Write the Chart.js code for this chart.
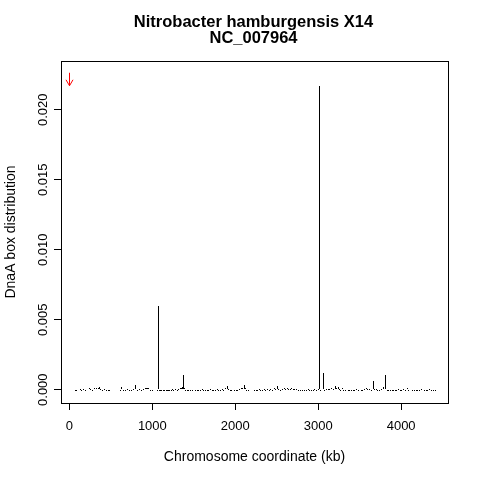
<!DOCTYPE html>
<html>
<head>
<meta charset="utf-8">
<script src="https://cdn.jsdelivr.net/npm/chart.js@4.4.1/dist/chart.umd.min.js"></script>
<style>
  html, body { margin: 0; padding: 0; background: #fff; }
  #wrap { width: 480px; height: 480px; }
</style>
</head>
<body>
<div id="wrap"><canvas id="chart" width="480" height="480"></canvas></div>
<script>
// titres
const mainTitle = ["Nitrobacter hamburgensis X14", "NC_007964"];
const xTitle = "Chromosome coordinate (kb)";
const yTitle = "DnaA box distribution";

// graduations
const xTicks = [0, 1000, 2000, 3000, 4000];
const yTicks = [0, 0.005, 0.010, 0.015, 0.020];

// positions des boites (kb)
const positionsKb = [
  68, 90, 130, 150, 175, 195, 240, 260, 280, 300, 330, 345, 358, 375, 400, 420, 445, 470, 488,
  616, 628, 650, 680, 700, 720, 745, 770, 797, 820, 845, 870, 895, 915, 930, 942, 955, 975, 1000,
  1060, 1071, 1085, 1100, 1115, 1130, 1150, 1165, 1180, 1195, 1210, 1225, 1240, 1260, 1280, 1300,
  1320, 1340, 1355, 1365, 1373, 1385, 1400, 1420, 1440, 1460, 1480, 1520, 1540, 1560, 1580, 1600,
  1620, 1640, 1660, 1680, 1700, 1720, 1740, 1760, 1780, 1800, 1820, 1840, 1860, 1880, 1901, 1920,
  1940, 1960, 1990, 2010, 2030, 2050, 2070, 2090, 2110, 2125, 2140, 2157,
  2230, 2250, 2270, 2290, 2310, 2330, 2350, 2370, 2390, 2410, 2430, 2450, 2470, 2490, 2509, 2525,
  2540, 2570, 2590, 2610, 2625, 2640, 2660, 2680, 2700, 2720, 2740, 2760, 2790, 2810, 2840, 2860,
  2880, 2900, 2920, 2940, 2960, 2980, 3000, 3017, 3030, 3065, 3080, 3100, 3120, 3140, 3160, 3180,
  3206, 3220, 3239, 3255, 3270, 3290, 3310, 3330, 3360, 3380, 3400, 3420, 3440, 3460, 3480, 3520,
  3540, 3560, 3580, 3600, 3620, 3640, 3661, 3680, 3700, 3720, 3740, 3760, 3790, 3815, 3830, 3850,
  3870, 3890, 3910, 3930, 3950, 3970, 3990, 4010, 4030, 4050, 4072, 4090, 4140, 4160, 4180, 4200,
  4220, 4240, 4280, 4300, 4320, 4340, 4370, 4390, 4414
];

// distribution correspondante
const boxDensity = [
  0, 0, 0.00005, 0, 0.00007, 0, 0.0001, 0.00005, 0, 0.0001, 0.00014, 0.0001, 0.00017, 0.00007, 0, 0.00005, 0, 0, 0,
  0, 0.00017, 0, 0, 0.00005, 0, 0, 0.00007, 0.00036, 0, 0.00005, 0, 0.00007, 0.0001, 0.00014, 0.00014, 0.0001, 0, 0,
  0, 0.006, 0, 0, 0, 0, 0, 0, 0, 0, 0, 0, 0.00005, 0, 0.00007, 0,
  0.00007, 0.0001, 0.00014, 0.0002, 0.00107, 0.0001, 0, 0, 0, 0, 0, 0, 0, 0, 0, 0.00005,
  0, 0, 0, 0, 0.00005, 0, 0, 0, 0.00007, 0, 0, 0.00005, 0, 0.0001, 0.00029, 0.00007,
  0, 0, 0, 0, 0, 0.00007, 0.0001, 0.00014, 0.00036, 0.0001, 0, 0,
  0, 0, 0, 0.00005, 0, 0, 0.00007, 0, 0.00005, 0, 0.00007, 0, 0.0001, 0.00007, 0.00029, 0.00007,
  0, 0.00005, 0.0001, 0.00007, 0.0001, 0.00007, 0.00007, 0.0001, 0.00007, 0.00007, 0.00005, 0, 0, 0, 0, 0,
  0.00005, 0, 0, 0, 0.00005, 0, 0.00007, 0.0217, 0, 0.00121, 0, 0.00005, 0.00007, 0.00005, 0.0001, 0.00007,
  0.00029, 0.0001, 0.00021, 0.00005, 0, 0.0001, 0, 0, 0, 0, 0, 0, 0, 0.00005, 0, 0,
  0, 0.00007, 0.0001, 0.00005, 0.00007, 0, 0.0006, 0.00005, 0.00007, 0, 0, 0.00005, 0.00021, 0.00107, 0, 0,
  0, 0, 0, 0, 0, 0.00005, 0, 0, 0.00005, 0, 0.0001, 0, 0, 0, 0, 0,
  0, 0.00005, 0, 0, 0, 0.00007, 0, 0, 0
];

// fleche rouge (origine)
const arrowKb = 0;
const arrowFrom = 0.02264;
const arrowTo = 0.02171;

// limites des axes
const xMin = -101.5, xMax = 4565;
const yMin = -0.00095, yMax = 0.02348;

const fontName = "'Liberation Sans', Arial, Helvetica, sans-serif";

// aligne les barres sur les pixels (trait net comme dans R)
const snapPlugin = {
  id: "snap",
  beforeDatasetsDraw(chart) {
    chart.getDatasetMeta(0).data.forEach(el => {
      el.x = Math.floor(el.x) + 0.5;
      const top = Math.round(el.y);
      let base = Math.round(el.base);
      if (base - top < 1) base = top + 1;
      el.y = top;
      el.base = base;
    });
  }
};

// plugin pour le cadre, les titres et la fleche
const decorPlugin = {
  id: "decor",
  afterDraw(chart) {
    const ctx = chart.ctx;
    const area = chart.chartArea;
    const xs = chart.scales.x;
    const ys = chart.scales.y;
    const cx = (area.left + area.right) / 2;

    ctx.save();
    ctx.fillStyle = "#000";
    ctx.strokeStyle = "#000";
    ctx.lineWidth = 1;

    // cadre
    ctx.strokeRect(Math.round(area.left) + 0.5, Math.round(area.top) + 0.5,
      Math.round(area.right - area.left), Math.round(area.bottom - area.top));

    // titre principal
    ctx.font = "bold 16.5px " + fontName;
    ctx.textAlign = "center";
    ctx.textBaseline = "alphabetic";
    ctx.fillText(mainTitle[0], cx - 1, 27);
    ctx.fillText(mainTitle[1], cx - 1, 43);

    // titre axe x
    ctx.font = "14px " + fontName;
    ctx.fillText(xTitle, cx, 461);

    // titre axe y
    ctx.save();
    ctx.translate(15, (area.top + area.bottom) / 2);
    ctx.rotate(-Math.PI / 2);
    ctx.fillText(yTitle, 0, 0);
    ctx.restore();

    // etiquettes de l'axe y (verticales)
    ctx.font = "13px " + fontName;
    yTicks.forEach(v => {
      const py = ys.getPixelForValue(v);
      ctx.save();
      ctx.translate(47, py);
      ctx.rotate(-Math.PI / 2);
      ctx.fillText(v.toFixed(3), 0, 0);
      ctx.restore();
    });

    // fleche
    const ax = Math.round(xs.getPixelForValue(arrowKb)) + 0.5;
    const ay0 = ys.getPixelForValue(arrowFrom);
    const ay1 = ys.getPixelForValue(arrowTo);
    ctx.strokeStyle = "#ff0000";
    ctx.beginPath();
    ctx.moveTo(ax, ay0);
    ctx.lineTo(ax, ay1);
    ctx.moveTo(ax - 3.5, ay1 - 6);
    ctx.lineTo(ax, ay1);
    ctx.lineTo(ax + 3.5, ay1 - 6);
    ctx.stroke();

    ctx.restore();
  }
};

const ctx = document.getElementById("chart").getContext("2d");

const chart = new Chart(ctx, {
  type: "bar",
  data: {
    datasets: [{
      data: positionsKb.map((x, i) => ({ x: x, y: boxDensity[i] })),
      backgroundColor: "#000",
      borderWidth: 0,
      barThickness: 1,
      inflateAmount: 0,
      minBarLength: 1
    }]
  },
  options: {
    responsive: false,
    animation: false,
    devicePixelRatio: 1,
    layout: { padding: { left: 0, top: 61, right: 32, bottom: 0 } },
    plugins: {
      legend: { display: false },
      title: { display: false },
      tooltip: { enabled: false }
    },
    scales: {
      x: {
        type: "linear",
        min: xMin,
        max: xMax,
        offset: false,
        afterBuildTicks: s => { s.ticks = xTicks.map(v => ({ value: v })); },
        afterFit: s => { s.height = 77; },
        grid: { drawOnChartArea: false, drawTicks: true, tickLength: 7, color: "#000", offset: false },
        border: { display: true, color: "#000" },
        ticks: {
          color: "#000",
          padding: 9,
          maxRotation: 0,
          font: { family: fontName, size: 13 },
          callback: v => String(v)
        }
      },
      y: {
        type: "linear",
        min: yMin,
        max: yMax,
        afterBuildTicks: s => { s.ticks = yTicks.map(v => ({ value: v })); },
        afterFit: s => { s.width = 61; },
        grid: { drawOnChartArea: false, drawTicks: true, tickLength: 7, color: "#000" },
        border: { display: true, color: "#000" },
        ticks: { display: false }
      }
    }
  },
  plugins: [snapPlugin, decorPlugin]
});
</script>
</body>
</html>
